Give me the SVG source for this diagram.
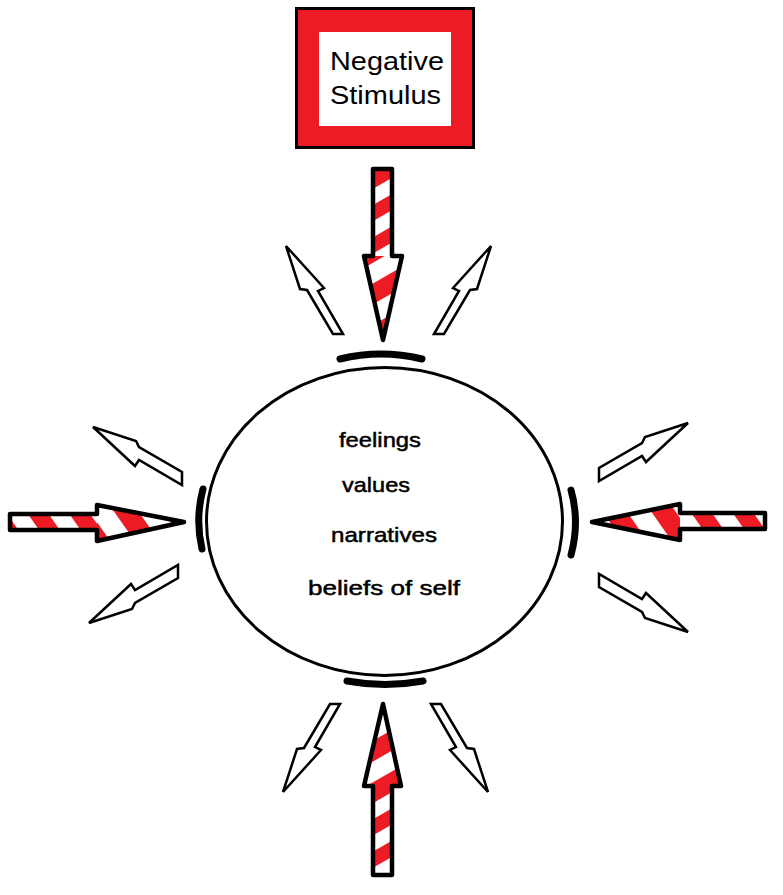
<svg xmlns="http://www.w3.org/2000/svg" width="783" height="895" viewBox="0 0 783 895">
<style>
.txt{font-family:"Liberation Sans",Arial,sans-serif;fill:#000}
.big{font-size:26px}
.mid{font-size:21px;stroke:#000;stroke-width:0.5}
.out{fill:none;stroke:#000;stroke-width:4.5;stroke-linejoin:round}
.small{fill:#fff;stroke:#000;stroke-width:2.5;stroke-linejoin:miter}
.arc{fill:none;stroke:#000;stroke-width:7;stroke-linecap:round}
</style>
<defs>
<pattern id="sv" patternUnits="userSpaceOnUse" width="100" height="28" patternTransform="rotate(-30)">
<rect width="100" height="28" fill="#fff"/><rect width="100" height="14" fill="#ED1C24"/>
</pattern>
<pattern id="svh" patternUnits="userSpaceOnUse" width="100" height="36" patternTransform="rotate(-30)">
<rect width="100" height="36" fill="#fff"/><rect width="100" height="18" fill="#ED1C24"/>
</pattern>
<pattern id="sh" patternUnits="userSpaceOnUse" width="34" height="100" patternTransform="rotate(-35)">
<rect width="34" height="100" fill="#fff"/><rect width="17" height="100" fill="#ED1C24"/>
</pattern>
<pattern id="shh" patternUnits="userSpaceOnUse" width="40" height="100" patternTransform="rotate(-35)">
<rect width="40" height="100" fill="#fff"/><rect width="20" height="100" fill="#ED1C24"/>
</pattern>
</defs>

<g id="stimulus">
<rect x="296.5" y="8.5" width="177" height="139" fill="#ED1C24" stroke="#000" stroke-width="3"/>
<rect x="319" y="32" width="132" height="94" fill="#fff"/>
<text class="txt big" x="330" y="70" textLength="114" lengthAdjust="spacingAndGlyphs">Negative</text>
<text class="txt big" x="330" y="104" textLength="111" lengthAdjust="spacingAndGlyphs">Stimulus</text>
</g>

<g id="self">
<ellipse cx="384.5" cy="521.5" rx="178" ry="154" fill="#fff" stroke="#000" stroke-width="3"/>
<text class="txt mid" x="339" y="447" textLength="82" lengthAdjust="spacingAndGlyphs">feelings</text>
<text class="txt mid" x="342" y="492" textLength="68" lengthAdjust="spacingAndGlyphs">values</text>
<text class="txt mid" x="331" y="542" textLength="106" lengthAdjust="spacingAndGlyphs">narratives</text>
<text class="txt mid" x="308" y="595" textLength="152" lengthAdjust="spacingAndGlyphs">beliefs of self</text>
</g>

<g id="shields">
<path class="arc" d="M340 359 Q381 349 422 359"/>
<path class="arc" d="M347 681 Q385 688 423 681"/>
<path class="arc" d="M203 489 Q195 519 202 549"/>
<path class="arc" d="M571 490 Q580 522 571 555"/>
</g>

<g id="connectors">
<g id="arrow-top">
<polygon points="373,169 392,169 392,256 373,256" fill="url(#sv)"/>
<polygon points="364,256 402,256 383,340" fill="url(#svh)"/>
<polygon class="out" points="373,169 392,169 392,256 402,256 383,340 364,256 373,256"/>
</g>
<g id="arrow-bottom">
<polygon points="373,786 392,786 392,875 373,875" fill="url(#sv)"/>
<polygon points="383,704 401,786 364,786" fill="url(#svh)"/>
<polygon class="out" points="383,704 401,786 392,786 392,875 373,875 373,786 364,786"/>
</g>
<g id="arrow-left">
<polygon points="10,514 97,514 97,530 10,530" fill="url(#sh)"/>
<polygon points="97,505 184,522 97,541" fill="url(#shh)"/>
<polygon class="out" points="10,514 97,514 97,505 184,522 97,541 97,530 10,530"/>
</g>
<g id="arrow-right">
<polygon points="680,513 765,513 765,529 680,529" fill="url(#sh)"/>
<polygon points="592,522 680,504 680,540" fill="url(#shh)"/>
<polygon class="out" points="592,522 680,504 680,513 765,513 765,529 680,529 680,540"/>
</g>
<polygon class="small" points="286,246 300,289 307,290 333,334 343,334 318,291 324,288"/>
<polygon class="small" points="491,246 477,289 470,290 444,334 434,334 459,291 453,288"/>
<polygon class="small" points="283,792 297,749 304,748 330,704 340,704 315,747 321,750"/>
<polygon class="small" points="488,792 474,749 467,748 441,704 431,704 456,747 450,750"/>
<polygon class="small" points="93,427 136,441 139,447 182,472 182,485 139,460 135,466"/>
<polygon class="small" points="89,623 132,609 135,603 178,578 178,565 135,590 131,584"/>
<polygon class="small" points="688,423 645,437 642,443 599,468 599,481 642,456 646,462"/>
<polygon class="small" points="688,632 645,618 642,612 599,587 599,574 642,599 646,593"/>
</g>
</svg>
